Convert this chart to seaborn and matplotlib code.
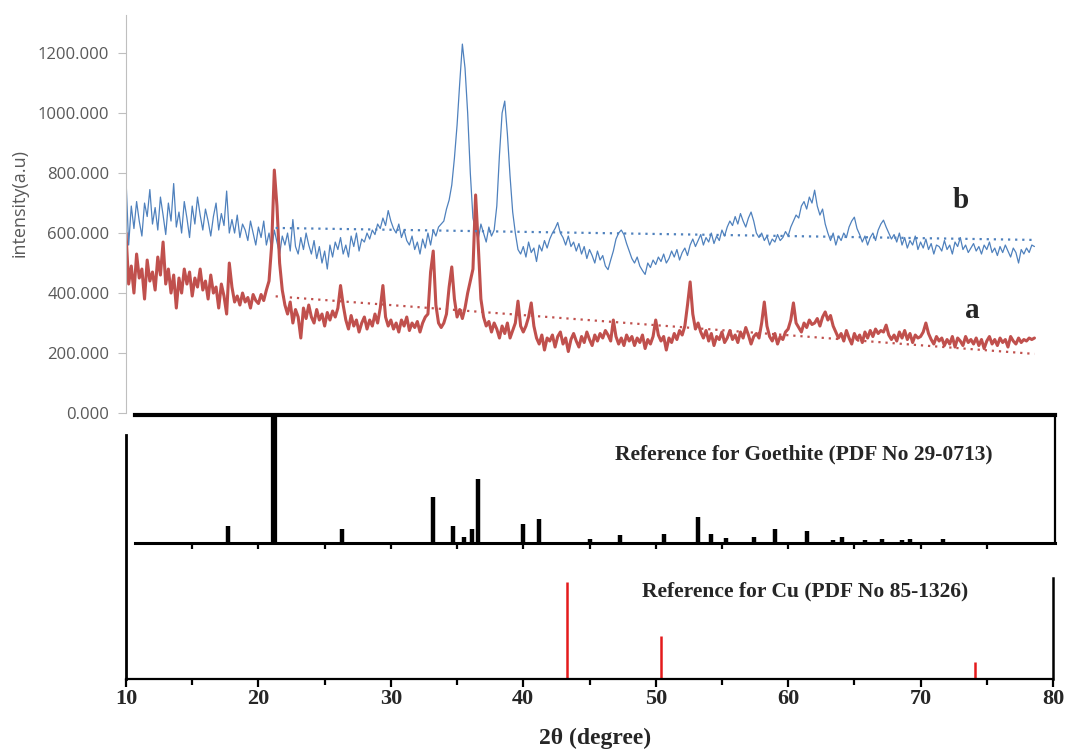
import numpy as np
import matplotlib
matplotlib.use("Agg")
import matplotlib.pyplot as plt
import seaborn as sns

# scan grid of the diffractometer (degrees 2-theta)
SCAN_START = 10.0
SCAN_STEP = 0.2

# sample b (blue), one row = 2 degrees
intensity_b = [
    780, 560, 690, 615, 705, 640, 590, 700, 655, 745,
    630, 685, 610, 720, 660, 595, 700, 640, 765, 620,
    670, 600, 705, 650, 585, 690, 630, 720, 660, 610,
    680, 640, 590, 655, 700, 610, 665, 625, 740, 600,
    645, 600, 660, 585, 630, 610, 575, 640, 600, 560,
    620, 585, 640, 560, 600, 545, 610, 570, 530, 590,
    560, 600, 540, 645, 555, 530, 585, 545, 600, 560,
    530, 575, 515, 555, 500, 540, 480, 560, 520, 570,
    545, 585, 530, 560, 520, 590, 555, 600, 540, 580,
    570, 600, 580, 610, 595, 630, 615, 650, 625, 675,
    640, 615, 600, 630, 585, 610, 575, 560, 590, 545,
    570, 530, 580, 550, 600, 560, 610, 590, 620, 630,
    640, 680, 710, 760, 850, 960, 1100, 1230, 1150, 1000,
    800, 650, 610, 580, 630, 600, 570, 620, 590, 610,
    690, 860, 1000, 1040, 930, 790, 670, 600, 545, 530,
    555, 520, 570, 535, 550, 505, 560, 540, 575, 550,
    580, 600, 615, 635, 600, 585, 560, 590, 555, 570,
    540, 565, 530, 555, 515, 545, 525, 500, 540, 510,
    525, 490, 478, 510, 540, 580, 600, 610, 595, 565,
    540, 515, 500, 520, 490, 475, 462, 500, 485, 510,
    495, 520, 505, 530, 500, 515, 540, 520, 545, 510,
    535, 550, 525, 560, 580, 555, 575, 595, 560, 585,
    570, 600, 565, 590, 575, 610, 590, 620, 640, 625,
    655, 630, 665, 640, 620, 650, 670, 640, 600, 585,
    600, 575, 590, 560, 580, 570, 595, 575, 585, 605,
    590, 620, 640, 660, 650, 690, 705, 680, 720, 700,
    743, 690, 660, 680, 630, 600, 575, 600, 560, 590,
    575, 600, 585, 620, 640, 653, 615, 595, 570, 590,
    560, 585, 600, 575, 610, 630, 643, 620, 600, 580,
    595, 570, 600, 560, 585, 550, 575, 560, 590, 545,
    570, 550, 580, 545, 565, 530, 560, 555, 540, 575,
    545, 560, 530, 570, 555, 585, 545, 560, 535, 550,
    565, 540, 555, 530, 560, 545, 570, 535, 550, 525,
    555, 535, 560, 540, 520, 550, 535, 500, 545, 530,
    550, 535, 560, 555,
]

# sample a (red)
intensity_a = [
    600, 430, 490, 400, 530, 450, 480, 380, 510, 440,
    470, 410, 520, 460, 570, 430, 480, 400, 460, 350,
    450, 400, 480, 430, 470, 390, 450, 420, 480, 410,
    440, 380, 460, 400, 420, 350, 430, 390, 330, 500,
    420, 370, 390, 360, 400, 370, 385, 350, 395, 375,
    365, 395, 375, 410, 440, 560, 810, 690, 500, 410,
    360, 330, 370, 300, 345, 320, 250, 350, 315, 360,
    320, 300, 345, 310, 330, 290, 335, 310, 340, 320,
    350, 425, 360, 310, 280, 325, 290, 310, 270, 300,
    320, 280, 310, 290, 330, 300, 350, 425, 320, 290,
    310, 280, 300, 270, 310, 290, 320, 275, 300, 285,
    305, 270, 300, 320, 330, 470, 540, 360, 300, 285,
    300, 330, 420, 487, 380, 320, 345, 315, 350, 400,
    440, 480, 727, 560, 380, 320, 290, 305, 270, 300,
    280, 250, 290, 265, 300, 250, 275, 300, 373, 290,
    270, 290, 320, 367, 290, 250, 230, 260, 210, 250,
    240, 260, 220, 255, 270, 230, 250, 205, 245, 265,
    240, 220, 255, 235, 270, 245, 225, 260, 240, 265,
    250, 275, 260, 240, 310, 255, 230, 250, 225, 260,
    240, 255, 225, 250, 235, 260, 215, 245, 230, 255,
    310, 260, 240, 255, 210, 250, 235, 265, 245, 275,
    260, 290, 360, 437, 330, 280, 300, 270, 250, 275,
    240, 265, 225, 255, 245, 270, 235, 250, 275, 245,
    260, 235, 270, 250, 285, 260, 230, 255, 265, 250,
    300, 370, 290, 255, 240, 265, 230, 255, 245, 270,
    280, 310, 367, 300, 285, 270, 300, 285, 310, 295,
    300, 315, 290, 320, 337, 310, 325, 290, 270, 250,
    265, 240, 275, 250, 230, 265, 245, 260, 235, 270,
    250, 275, 255, 280, 265, 275, 270, 293, 260, 245,
    260, 240, 270, 250, 275, 245, 265, 235, 260, 250,
    255, 270, 300, 265, 245, 230, 255, 240, 250, 225,
    245, 230, 255, 220, 250, 240, 225, 255, 235, 245,
    230, 250, 225, 245, 215, 240, 255, 230, 245, 225,
    250, 235, 245, 220, 255, 240, 230, 250, 235, 245,
    240, 250, 245, 250,
]

# linear trend lines (end points)
trend_x = [21.3, 78.6]
trend_b = [617, 577]
trend_a = [389, 197]

# reference patterns (relative intensity)
goethite_pos = [17.7, 21.2, 26.3, 33.2, 34.7, 35.5, 36.1, 36.6, 39.0, 40.0,
                41.2, 43.3, 45.0, 47.3, 50.6, 53.2, 54.2, 55.3, 57.4, 59.0,
                61.4, 63.4, 64.1, 65.8, 67.1, 68.6, 69.2, 71.7, 73.5, 76.5]
goethite_int = [13, 100, 11, 36, 13, 5, 11, 50, 1, 15,
                19, 1, 3, 6, 7, 20, 7, 4, 5, 11,
                9, 2, 5, 2, 3, 2, 3, 3, 1, 1]
cu_pos = [43.3, 50.4, 74.1]
cu_int = [100, 44, 18]

y_ticks = [0, 200, 400, 600, 800, 1000, 1200]
x_ticks = [10, 20, 30, 40, 50, 60, 70, 80]

BLUE = "#4f81bd"
RED = "#c0504d"
GREY = "#595959"
SERIF = ["Liberation Serif", "DejaVu Serif"]
SANS = ["Open Sans", "DejaVu Sans"]

sns.set_theme(style="white")
plt.rcParams["font.family"] = SANS

W, H = 1066, 751
fig = plt.figure(figsize=(W / 100, H / 100), dpi=100)


def box(left, top, right, bottom):
    return [left / W, 1 - bottom / H, (right - left) / W, (bottom - top) / H]


# ---------------- measured patterns ----------------
ax = fig.add_axes(box(126, 15, 1053, 413))
x_b = SCAN_START + SCAN_STEP * np.arange(len(intensity_b))
x_a = SCAN_START + SCAN_STEP * np.arange(len(intensity_a))
sns.lineplot(x=x_b, y=intensity_b, ax=ax, color=BLUE, linewidth=0.9)
sns.lineplot(x=x_a, y=intensity_a, ax=ax, color=RED, linewidth=2.2)
sns.lineplot(x=trend_x, y=trend_b, ax=ax, color=BLUE, linewidth=1.6, linestyle=(0, (1, 2.2)))
sns.lineplot(x=trend_x, y=trend_a, ax=ax, color=RED, linewidth=1.6, linestyle=(0, (1, 2.2)))
ax.set_xlim(10, 80)
ax.set_ylim(0, 1327)
ax.set_xticks([])
ax.set_yticks(y_ticks)
ax.set_yticklabels([f"{v:.3f}" for v in y_ticks])
for lab in ax.get_yticklabels():
    lab.set_fontfamily(SANS)
ax.tick_params(axis="y", direction="out", length=6, width=0.8, color="#bfbfbf",
               labelsize=12, labelcolor=GREY, pad=6, left=True)
for s in ["top", "right", "bottom"]:
    ax.spines[s].set_visible(False)
ax.spines["left"].set_color("#bfbfbf")
ax.spines["left"].set_linewidth(0.8)
ax.set_xlabel("")
ax.set_ylabel("")
ax.patch.set_alpha(0)
ax.text(73.0, 710, "b", family=SERIF, fontweight="bold", fontsize=21, ha="center", va="center")
ax.text(73.9, 343, "a", family=SERIF, fontweight="bold", fontsize=21, ha="center", va="center")
fig.text(20 / W, 1 - 203 / H, "intensity(a.u)", rotation=90, color=GREY, fontsize=13,
         ha="center", va="center", family=SANS)

# ---------------- goethite reference ----------------
axg = fig.add_axes(box(135, 415, 1055, 543))
widths = [4.5 if v == 100 else 3.2 for v in goethite_int]
axg.vlines(goethite_pos, 0, goethite_int, colors="black", linewidths=widths)
axg.set_xlim(10.68, 80.15)
axg.set_ylim(0, 100)
axg.set_yticks([])
axg.set_xticks([15, 20, 25, 30, 35, 40, 45, 50, 55, 60, 65, 70, 75])
axg.set_xticklabels([])
axg.tick_params(axis="x", direction="out", length=4.5, width=1.6, color="black", bottom=True)
axg.spines["left"].set_visible(False)
axg.spines["top"].set_linewidth(3.0)
axg.spines["bottom"].set_linewidth(2.2)
axg.spines["right"].set_linewidth(1.6)
for s in ["top", "bottom", "right"]:
    axg.spines[s].set_color("black")
axg.patch.set_alpha(0)
axg.text(61.2, 69, "Reference for Goethite (PDF No 29-0713)", family=SERIF,
         fontweight="bold", fontsize=15.5, ha="center", va="center")

# ---------------- Cu reference ----------------
axc = fig.add_axes(box(126, 435, 1053, 679))
axc.vlines(cu_pos, 0, cu_int, colors="#e41a1c", linewidths=1.8)
axc.set_xlim(10, 80)
axc.set_ylim(0, 251.5)
axc.set_yticks([])
axc.set_xticks(x_ticks)
axc.set_xticks([15, 25, 35, 45, 55, 65, 75], minor=True)
axc.set_xticklabels([str(t) for t in x_ticks])
for lab in axc.get_xticklabels():
    lab.set_fontfamily(SERIF)
    lab.set_fontweight("bold")
axc.tick_params(axis="x", which="major", direction="out", length=6, width=1.6,
                color="black", labelsize=16, pad=1, bottom=True)
axc.tick_params(axis="x", which="minor", direction="out", length=4, width=1.6,
                color="black", bottom=True)
axc.spines["top"].set_visible(False)
axc.spines["left"].set_linewidth(2.0)
axc.spines["bottom"].set_linewidth(1.6)
axc.spines["right"].set_linewidth(1.8)
axc.spines["right"].set_bounds(0, 104)
for s in ["left", "bottom", "right"]:
    axc.spines[s].set_color("black")
axc.patch.set_alpha(0)
axc.text(61.3, 90.7, "Reference for Cu (PDF No 85-1326)", family=SERIF,
         fontweight="bold", fontsize=15.5, ha="center", va="center")

fig.text(595 / W, 1 - 749 / H, "2\u03b8 (degree)", family=SERIF, fontweight="bold",
         fontsize=17, ha="center", va="bottom")

fig.savefig("out.png", dpi=100)
